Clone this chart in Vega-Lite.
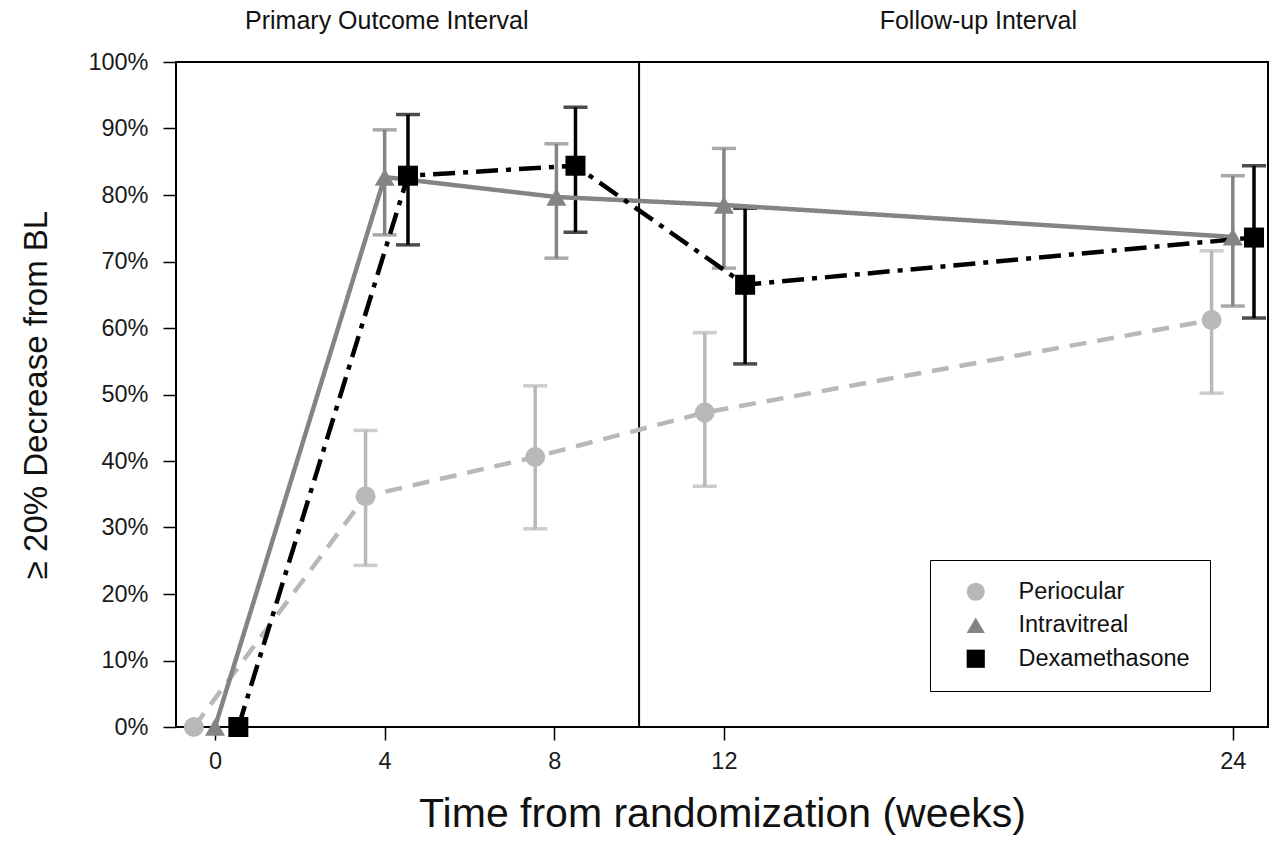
{
  "$schema": "https://vega.github.io/schema/vega-lite/v6.json",
  "width": 1092,
  "height": 665,
  "autosize": {"type": "none"},
  "padding": {"left": 176, "top": 62, "right": 14, "bottom": 115},
  "background": "white",
  "config": {
    "font": "Liberation Sans",
    "view": {"stroke": "black", "strokeWidth": 2},
    "axis": {"grid": false, "domain": false, "tickColor": "black", "tickSize": 13, "tickWidth": 1.5, "labelColor": "#1a1a1a", "titleColor": "#111", "labelFontSize": 23.5, "titleFontWeight": "normal", "labelFont": "Liberation Sans", "titleFont": "Liberation Sans"},
    "legend": {"symbolOpacity": 1}
  },
  "datasets": {
    "pts": [
      {"series": "Periocular", "week": 0, "t": -0.5, "p": 0.0, "lo": null, "hi": null},
      {"series": "Periocular", "week": 4, "t": 3.55, "p": 0.347, "lo": 0.243, "hi": 0.446},
      {"series": "Periocular", "week": 8, "t": 7.55, "p": 0.406, "lo": 0.298, "hi": 0.513},
      {"series": "Periocular", "week": 12, "t": 11.55, "p": 0.473, "lo": 0.362, "hi": 0.593},
      {"series": "Periocular", "week": 24, "t": 23.5, "p": 0.612, "lo": 0.502, "hi": 0.716},
      {"series": "Intravitreal", "week": 0, "t": 0.0, "p": 0.0, "lo": null, "hi": null},
      {"series": "Intravitreal", "week": 4, "t": 4.0, "p": 0.827, "lo": 0.740, "hi": 0.898},
      {"series": "Intravitreal", "week": 8, "t": 8.05, "p": 0.797, "lo": 0.705, "hi": 0.877},
      {"series": "Intravitreal", "week": 12, "t": 12.0, "p": 0.785, "lo": 0.690, "hi": 0.870},
      {"series": "Intravitreal", "week": 24, "t": 24.0, "p": 0.737, "lo": 0.633, "hi": 0.829},
      {"series": "Dexamethasone", "week": 0, "t": 0.55, "p": 0.0, "lo": null, "hi": null},
      {"series": "Dexamethasone", "week": 4, "t": 4.55, "p": 0.829, "lo": 0.725, "hi": 0.921},
      {"series": "Dexamethasone", "week": 8, "t": 8.5, "p": 0.844, "lo": 0.744, "hi": 0.932},
      {"series": "Dexamethasone", "week": 12, "t": 12.5, "p": 0.665, "lo": 0.546, "hi": 0.780},
      {"series": "Dexamethasone", "week": 24, "t": 24.5, "p": 0.736, "lo": 0.615, "hi": 0.844}
    ],
    "div": [{"t": 10}],
    "lab": [
      {"t": 4.05, "y": 1.062, "label": "Primary Outcome Interval"},
      {"t": 18.0, "y": 1.062, "label": "Follow-up Interval"}
    ]
  },
  "layer": [
    {
      "data": {"name": "div"},
      "mark": {"type": "rule", "color": "black", "strokeWidth": 2},
      "encoding": {"x": {"field": "t", "type": "quantitative"}}
    },
    {
      "data": {"name": "lab"},
      "mark": {"type": "text", "fontSize": 25, "color": "#111", "align": "center", "baseline": "middle"},
      "encoding": {
        "x": {"field": "t", "type": "quantitative"},
        "y": {"field": "y", "type": "quantitative"},
        "text": {"field": "label"}
      }
    },
    {
      "data": {"name": "pts"},
      "mark": {"type": "rule", "strokeWidth": 3.5},
      "encoding": {
        "x": {"field": "t", "type": "quantitative"},
        "y": {"field": "lo", "type": "quantitative"},
        "y2": {"field": "hi"},
        "color": {"field": "series", "type": "nominal"}
      }
    },
    {
      "data": {"name": "pts"},
      "mark": {"type": "tick", "orient": "horizontal", "size": 24, "thickness": 3.5},
      "encoding": {
        "x": {"field": "t", "type": "quantitative"},
        "y": {"field": "lo", "type": "quantitative"},
        "color": {"field": "series", "type": "nominal"}
      }
    },
    {
      "data": {"name": "pts"},
      "mark": {"type": "tick", "orient": "horizontal", "size": 24, "thickness": 3.5},
      "encoding": {
        "x": {"field": "t", "type": "quantitative"},
        "y": {"field": "hi", "type": "quantitative"},
        "color": {"field": "series", "type": "nominal"}
      }
    },
    {
      "data": {"name": "pts"},
      "mark": {"type": "line", "strokeWidth": 4.5, "strokeCap": "butt"},
      "encoding": {
        "x": {"field": "t", "type": "quantitative"},
        "y": {"field": "p", "type": "quantitative"},
        "color": {"field": "series", "type": "nominal"},
        "strokeDash": {"field": "series", "type": "nominal", "legend": null,
          "scale": {"domain": ["Periocular", "Intravitreal", "Dexamethasone"], "range": [[17, 11], [1, 0], [22, 8, 5, 8]]}}
      }
    },
    {
      "data": {"name": "pts"},
      "mark": {"type": "point", "filled": true, "opacity": 1, "size": 400},
      "encoding": {
        "x": {
          "field": "t", "type": "quantitative",
          "scale": {"domain": [-0.92, 24.83], "nice": false, "zero": false},
          "axis": {"values": [0, 4, 8, 12, 24], "title": "Time from randomization (weeks)", "titleFontSize": 41, "titlePadding": 22, "labelPadding": 9}
        },
        "y": {
          "field": "p", "type": "quantitative",
          "scale": {"domain": [0, 1], "nice": false},
          "axis": {"values": [0, 0.1, 0.2, 0.3, 0.4, 0.5, 0.6, 0.7, 0.8, 0.9, 1], "format": ".0%", "title": "≥ 20% Decrease from BL", "titleFontSize": 33, "titlePadding": 34, "labelPadding": 15}
        },
        "color": {
          "field": "series", "type": "nominal",
          "scale": {"domain": ["Periocular", "Intravitreal", "Dexamethasone"], "range": ["#b8b8b8", "#848484", "#000000"]},
          "legend": {
            "title": null,
            "orient": "none",
            "legendX": 754,
            "legendY": 498,
            "padding": 20,
            "strokeColor": "black",
            "fillColor": "white",
            "symbolSize": 330,
            "symbolStrokeWidth": 0,
            "symbolOpacity": 1,
            "symbolOffset": 14,
            "labelFontSize": 23.5,
            "labelColor": "#111",
            "labelOffset": 31,
            "rowPadding": 8.5,
            "labelLimit": 400
          }
        },
        "shape": {
          "field": "series", "type": "nominal", "legend": null,
          "scale": {"domain": ["Periocular", "Intravitreal", "Dexamethasone"], "range": ["circle", "triangle-up", "square"]}
        }
      }
    }
  ]
}
